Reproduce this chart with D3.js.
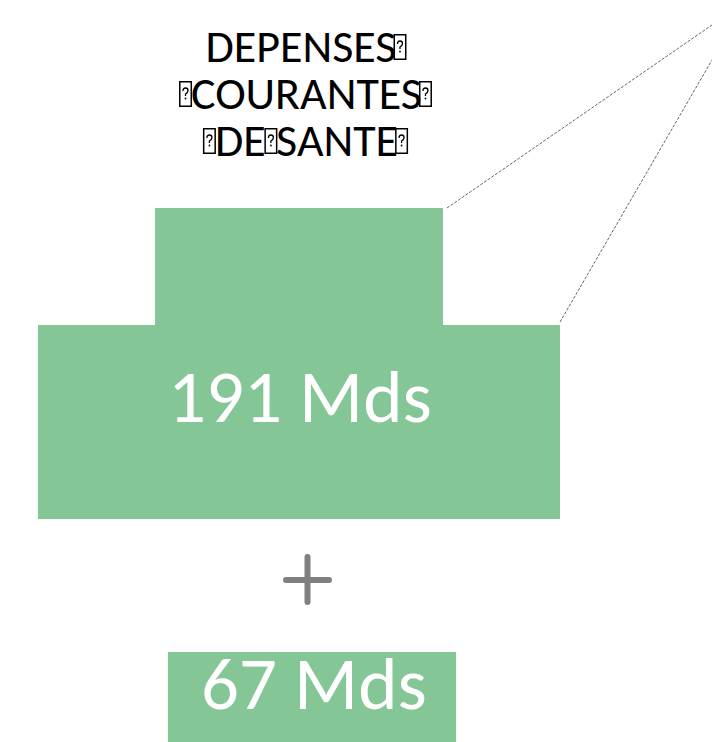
<!DOCTYPE html>
<html lang="fr">
<head>
    <meta charset="UTF-8">
    <title>Dépenses courantes de santé</title>
    <script src="https://d3js.org/d3.v7.min.js"></script>
    <style>
        body { margin: 0; background: white; }
        svg { display: block; }
        .title { font-family: Carlito, Calibri, Lato, sans-serif; font-size: 46px; fill: #000; }
        .amount { font-family: Carlito, Calibri, Lato, sans-serif; font-size: 75px; font-weight: 300; fill: #fff; }
    </style>
</head>
<body>
<svg id="chart" width="712" height="742"></svg>
<script>
    // data
    const titleLines = ["DEPENSES", "COURANTES", "DE SANTE"];
    // where the missing-glyph boxes sit on each line: "start", "end", or index of a space
    const tofuSpots = [["end"], ["start", "end"], ["start", 2, "end"]];
    const amounts = [191, 67];
    const unit = "Mds";

    const green = "#84c695";
    const svg = d3.select("#chart");

    // title, with the little "missing glyph" boxes the original shows
    const titleCx = 306, titleY0 = 62, lineGap = 47, boxW = 13, boxH = 26;
    titleLines.forEach((line, i) => {
        const y = titleY0 + i * lineGap;
        const t = svg.append("text").attr("class", "title").attr("y", y).text(line);
        const w = t.node().getComputedTextLength();
        const spots = tofuSpots[i];
        const lead = spots.includes("start") ? boxW - 2 : 0;
        const tail = spots.includes("end") ? boxW - 3 : 0;
        const x0 = titleCx - (w + lead + tail) / 2 + lead;
        t.attr("x", x0);
        spots.forEach(s => {
            let bx;
            if (s === "start") bx = x0 - boxW + 1;
            else if (s === "end") bx = x0 + w - 3;
            else {
                const pre = t.node().getSubStringLength(0, s);
                const sp = t.node().getSubStringLength(s, 1);
                bx = x0 + pre + sp / 2 - boxW / 2;
            }
            const by = y - boxH - 2;
            const g = svg.append("g").attr("transform", `translate(${bx},${by})`)
                .attr("fill", "none").attr("stroke", "#000");
            g.append("rect")
                .attr("x", 0.75).attr("y", 0.75)
                .attr("width", boxW - 1.5).attr("height", boxH - 1.5)
                .attr("stroke-width", 1.5);
            // small question mark inside the box
            const cx = boxW / 2, cy = boxH / 2;
            g.append("path")
                .attr("d", `M${cx - 2.5},${cy - 3} Q${cx - 2.5},${cy - 6} ${cx},${cy - 6} Q${cx + 2.5},${cy - 6} ${cx + 2.5},${cy - 3.5} Q${cx + 2.5},${cy - 1.5} ${cx},${cy} L${cx},${cy + 2}`)
                .attr("stroke-width", 1.3);
            g.append("circle").attr("cx", cx).attr("cy", cy + 4.5).attr("r", 0.9)
                .attr("fill", "#000").attr("stroke", "none");
        });
    });

    // zoom lines going off to the upper right
    const lines = [[447, 208, 712, 25], [560, 322, 712, 60]];
    svg.selectAll(".zoomline").data(lines).enter().append("line")
        .attr("x1", d => d[0]).attr("y1", d => d[1])
        .attr("x2", d => d[2]).attr("y2", d => d[3])
        .attr("stroke", "#666").attr("stroke-width", 1)
        .attr("stroke-dasharray", "3,1.5");

    // stepped block for the main amount, then the extra block
    const blocks = [
        { x: 155, y: 208, w: 288, h: 118 },
        { x: 38, y: 325, w: 522, h: 194 },
        { x: 168, y: 652, w: 288, h: 95 }
    ];
    svg.selectAll(".block").data(blocks).enter().append("rect")
        .attr("x", d => d.x).attr("y", d => d.y)
        .attr("width", d => d.w).attr("height", d => d.h)
        .attr("fill", green);

    const labelPos = [{ x: 300, y: 422 }, { x: 314, y: 709 }];
    svg.selectAll(".amount").data(amounts).enter().append("text")
        .attr("class", "amount")
        .attr("x", (d, i) => labelPos[i].x)
        .attr("y", (d, i) => labelPos[i].y)
        .attr("text-anchor", "middle")
        .text(d => `${d} ${unit}`);

    // plus sign
    const plus = svg.append("g").attr("stroke", "#808080").attr("stroke-width", 6).attr("stroke-linecap", "round");
    plus.append("line").attr("x1", 286).attr("x2", 329).attr("y1", 580).attr("y2", 580);
    plus.append("line").attr("x1", 307.5).attr("x2", 307.5).attr("y1", 557).attr("y2", 602);
</script>
</body>
</html>
